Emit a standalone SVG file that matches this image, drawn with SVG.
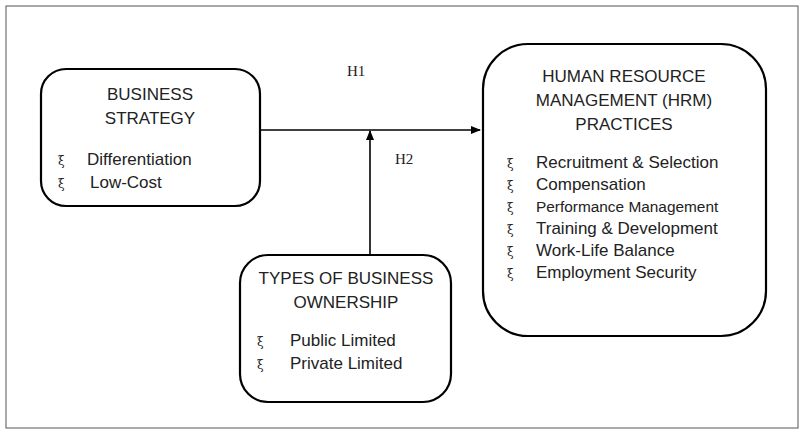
<svg xmlns="http://www.w3.org/2000/svg" width="805" height="434" viewBox="0 0 805 434">
<style>
.b{fill:#fff;stroke:#000;stroke-width:2.2}
.t{font-family:"Liberation Sans",Arial,sans-serif;font-size:17px;fill:#222}
.s{font-family:"Liberation Serif",serif;font-size:15px;fill:#222}
.x{font-family:"DejaVu Serif",serif;font-size:12px;fill:#222}
.c{stroke:#000;stroke-width:1.6;fill:none}
</style>
<defs><marker id="a" markerWidth="10" markerHeight="8" refX="9" refY="4" orient="auto" markerUnits="userSpaceOnUse"><path d="M0,0L10,4L0,8z" fill="#000"/></marker></defs>
<rect x="6" y="6" width="792" height="422" fill="#fff" stroke="#555" stroke-width="1"/>
<g id="connectors">
<line class="c" x1="260" y1="130" x2="480" y2="130" marker-end="url(#a)"/>
<line class="c" x1="370" y1="255" x2="370" y2="131" marker-end="url(#a)"/>
<text class="s" x="347" y="76">H1</text>
<text class="s" x="395" y="164">H2</text>
</g>
<g id="business">
<rect class="b" x="41" y="69" width="219" height="137" rx="25"/>
<text class="t" x="150" y="100" text-anchor="middle">BUSINESS</text>
<text class="t" x="150" y="124" text-anchor="middle">STRATEGY</text>
<text class="x" x="58" y="165">ξ</text><text class="t" x="87" y="165">Differentiation</text>
<text class="x" x="58" y="188">ξ</text><text class="t" x="90" y="188">Low-Cost</text>
</g>
<g id="hrm">
<rect class="b" x="483" y="44" width="283" height="292" rx="45"/>
<text class="t" x="624" y="82" text-anchor="middle">HUMAN RESOURCE</text>
<text class="t" x="624" y="106" text-anchor="middle">MANAGEMENT (HRM)</text>
<text class="t" x="624" y="130" text-anchor="middle">PRACTICES</text>
<g class="x"><text x="507" y="168">ξ</text><text x="507" y="190">ξ</text><text x="507" y="212">ξ</text><text x="507" y="234">ξ</text><text x="507" y="256">ξ</text><text x="507" y="278">ξ</text></g>
<text class="t" x="536" y="168">Recruitment &amp; Selection</text>
<text class="t" x="536" y="190">Compensation</text>
<text class="t" x="536" y="212" style="font-size:15.4px">Performance Management</text>
<text class="t" x="536" y="234">Training &amp; Development</text>
<text class="t" x="536" y="256">Work-Life Balance</text>
<text class="t" x="536" y="278">Employment Security</text>
</g>
<g id="ownership">
<rect class="b" x="240" y="255" width="211" height="147" rx="28"/>
<text class="t" x="346" y="284" text-anchor="middle">TYPES OF BUSINESS</text>
<text class="t" x="346" y="308" text-anchor="middle">OWNERSHIP</text>
<text class="x" x="257" y="346">ξ</text><text class="t" x="290" y="346">Public Limited</text>
<text class="x" x="257" y="369">ξ</text><text class="t" x="290" y="369">Private Limited</text>
</g>
</svg>
